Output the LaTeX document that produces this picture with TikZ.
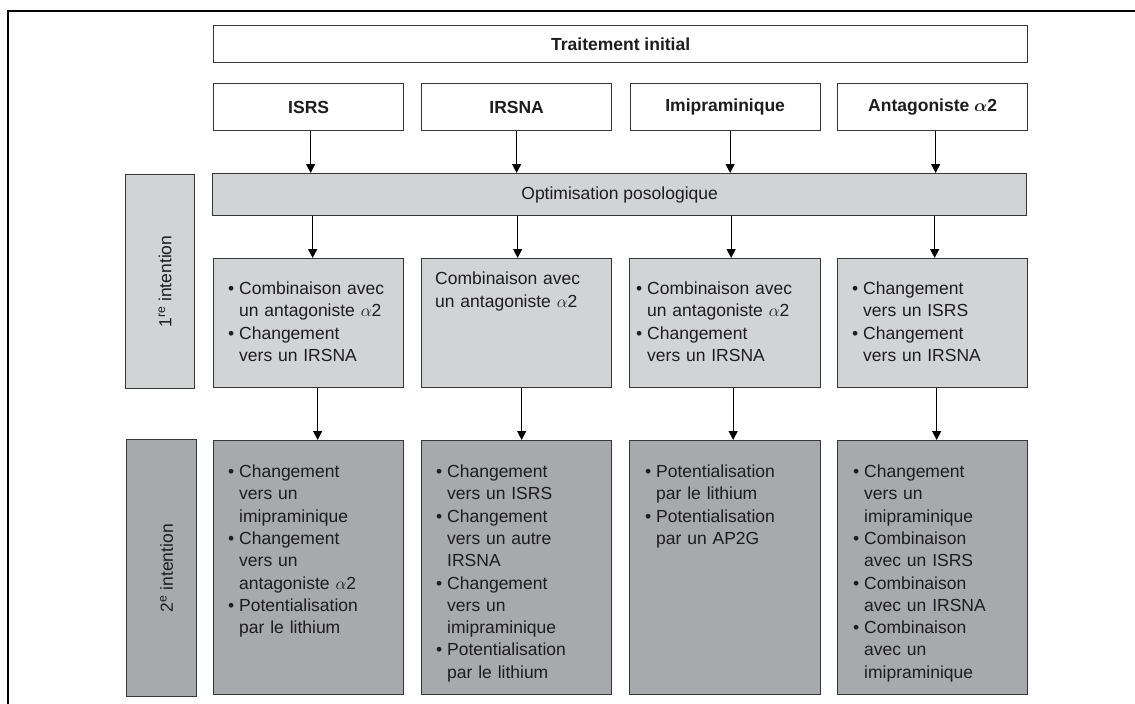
\documentclass[tikz,border=0pt]{standalone}
\usepackage{fontspec}
\setmainfont{Liberation Sans}
\usepackage{bm}
\usetikzlibrary{arrows.meta}
\definecolor{lightg}{RGB}{210,211,213}
\definecolor{darkg}{RGB}{167,169,172}
\definecolor{edgec}{RGB}{55,55,55}
\definecolor{txtc}{RGB}{30,28,29}
\newcommand{\bit}[1]{\par\noindent\hangindent=11pt\hangafter=1\makebox[11pt][l]{\textbullet}#1\par}
\newcommand{\aph}{$\alpha$2}
\begin{document}
\begin{tikzpicture}[x=1pt,y=-1pt,
  every node/.style={text=txtc},
  boxw/.style={draw=edgec,line width=1.3pt,fill=white,anchor=north west,inner sep=0pt,minimum width=190pt},
  boxa/.style={draw=edgec,line width=1.3pt,fill=lightg,anchor=north west,inner sep=0pt},
  boxb/.style={draw=edgec,line width=1.3pt,fill=darkg,anchor=north west,inner sep=0pt},
  hd/.style={font=\fontsize{17.5}{21}\selectfont\bfseries},
  bodyt/.style={anchor=north west,inner sep=0pt,text width=172pt,align=left,font=\fontsize{17.5}{22.3}\selectfont},
  labt/.style={rotate=90,font=\fontsize{17.5}{21}\selectfont},
  arr/.style={draw=black,line width=1.2pt,-{Triangle[length=9pt,width=9pt]}}
]
\useasboundingbox (0,0) rectangle (1135,704);
\fill[white] (0,0) rectangle (1135,704);
% outer frame
\coordinate (fbl) at (8,704);
\coordinate (ftl) at (8,11);
\coordinate (ftr) at (1135,11);
\draw[line width=2.6pt,black] (fbl) -- (ftl) -- (ftr);

% header
\node[boxw,minimum width=814pt,minimum height=37pt,hd] (ti) at (213,25) {Traitement initial};
\node[boxw,minimum height=47pt,hd] (c1) at (213,83) {ISRS};
\node[boxw,minimum height=47pt,hd] (c2) at (421,83) {IRSNA};
\node[boxw,minimum height=47pt,hd] (c3) at (629.5,83) {Imipraminique};
\node[boxw,minimum height=47pt,hd] (c4) at (837,83) {Antagoniste $\bm{\alpha}$2};

% optimisation
\node[boxa,minimum width=814pt,minimum height=42pt,font=\fontsize{17.5}{21}\selectfont] (op) at (212,173) {Optimisation posologique};

% labels
\node[boxa,minimum width=69pt,minimum height=214pt] (l1) at (125,174) {};
\node[labt] (l1t) at ([xshift=5pt]l1.center) {1\textsuperscript{re} intention};
\node[boxb,minimum width=70pt,minimum height=257pt] (l2) at (126,439) {};
\node[labt] (l2t) at ([xshift=5pt]l2.center) {2\textsuperscript{e} intention};

% first intention boxes
\node[boxa,minimum width=190pt,minimum height=129pt] (a1) at (213,258) {};
\node[boxa,minimum width=190pt,minimum height=129pt] (a2) at (421,258) {};
\node[boxa,minimum width=191pt,minimum height=129pt] (a3) at (629,258) {};
\node[boxa,minimum width=190pt,minimum height=129pt] (a4) at (837,258) {};

\node[bodyt] (a1t) at ([xshift=15pt,yshift=-14pt]a1.north west) {\bit{Combinaison avec\newline un antagoniste \aph}\bit{Changement\newline vers un IRSNA}};
\node[bodyt] (a2t) at ([xshift=14pt,yshift=-14pt]a2.north west) {Combinaison avec\newline un antagoniste \aph};
\node[bodyt] (a3t) at ([xshift=7pt,yshift=-14pt]a3.north west) {\bit{Combinaison avec\newline un antagoniste \aph}\bit{Changement\newline vers un IRSNA}};
\node[bodyt] (a4t) at ([xshift=15pt,yshift=-14pt]a4.north west) {\bit{Changement\newline vers un ISRS}\bit{Changement\newline vers un IRSNA}};

% second intention boxes
\node[boxb,minimum width=190pt,minimum height=254pt] (b1) at (213,440) {};
\node[boxb,minimum width=190pt,minimum height=254pt] (b2) at (421,440) {};
\node[boxb,minimum width=191pt,minimum height=254pt] (b3) at (629,440) {};
\node[boxb,minimum width=190pt,minimum height=254pt] (b4) at (837,440) {};

\node[bodyt] (b1t) at ([xshift=15pt,yshift=-15pt]b1.north west) {\bit{Changement\newline vers un\newline imipraminique}\bit{Changement\newline vers un\newline antagoniste \aph}\bit{Potentialisation\newline par le lithium}};
\node[bodyt] (b2t) at ([xshift=15pt,yshift=-15pt]b2.north west) {\bit{Changement\newline vers un ISRS}\bit{Changement\newline vers un autre\newline IRSNA}\bit{Changement\newline vers un\newline imipraminique}\bit{Potentialisation\newline par le lithium}};
\node[bodyt] (b3t) at ([xshift=16pt,yshift=-15pt]b3.north west) {\bit{Potentialisation\newline par le lithium}\bit{Potentialisation\newline par un AP2G}};
\node[bodyt] (b4t) at ([xshift=16pt,yshift=-15pt]b4.north west) {\bit{Changement\newline vers un\newline imipraminique}\bit{Combinaison\newline avec un ISRS}\bit{Combinaison\newline avec un IRSNA}\bit{Combinaison\newline avec un\newline imipraminique}};

% arrows
\foreach \n/\s in {c1/2,c2/0,c3/5,c4/3}{
  \draw[arr] ([xshift=\s pt]\n.south) -- ([xshift=\s pt]\n.south |- op.north);
}
\foreach \n/\s in {a1/4,a2/1,a3/6,a4/2}{
  \draw[arr] ([xshift=\s pt]\n.north |- op.south) -- ([xshift=\s pt]\n.north);
}
\foreach \a/\b/\s in {a1/b1/9,a2/b2/5,a3/b3/8,a4/b4/4}{
  \draw[arr] ([xshift=\s pt]\a.south) -- ([xshift=\s pt]\b.north);
}
\end{tikzpicture}
\end{document}
